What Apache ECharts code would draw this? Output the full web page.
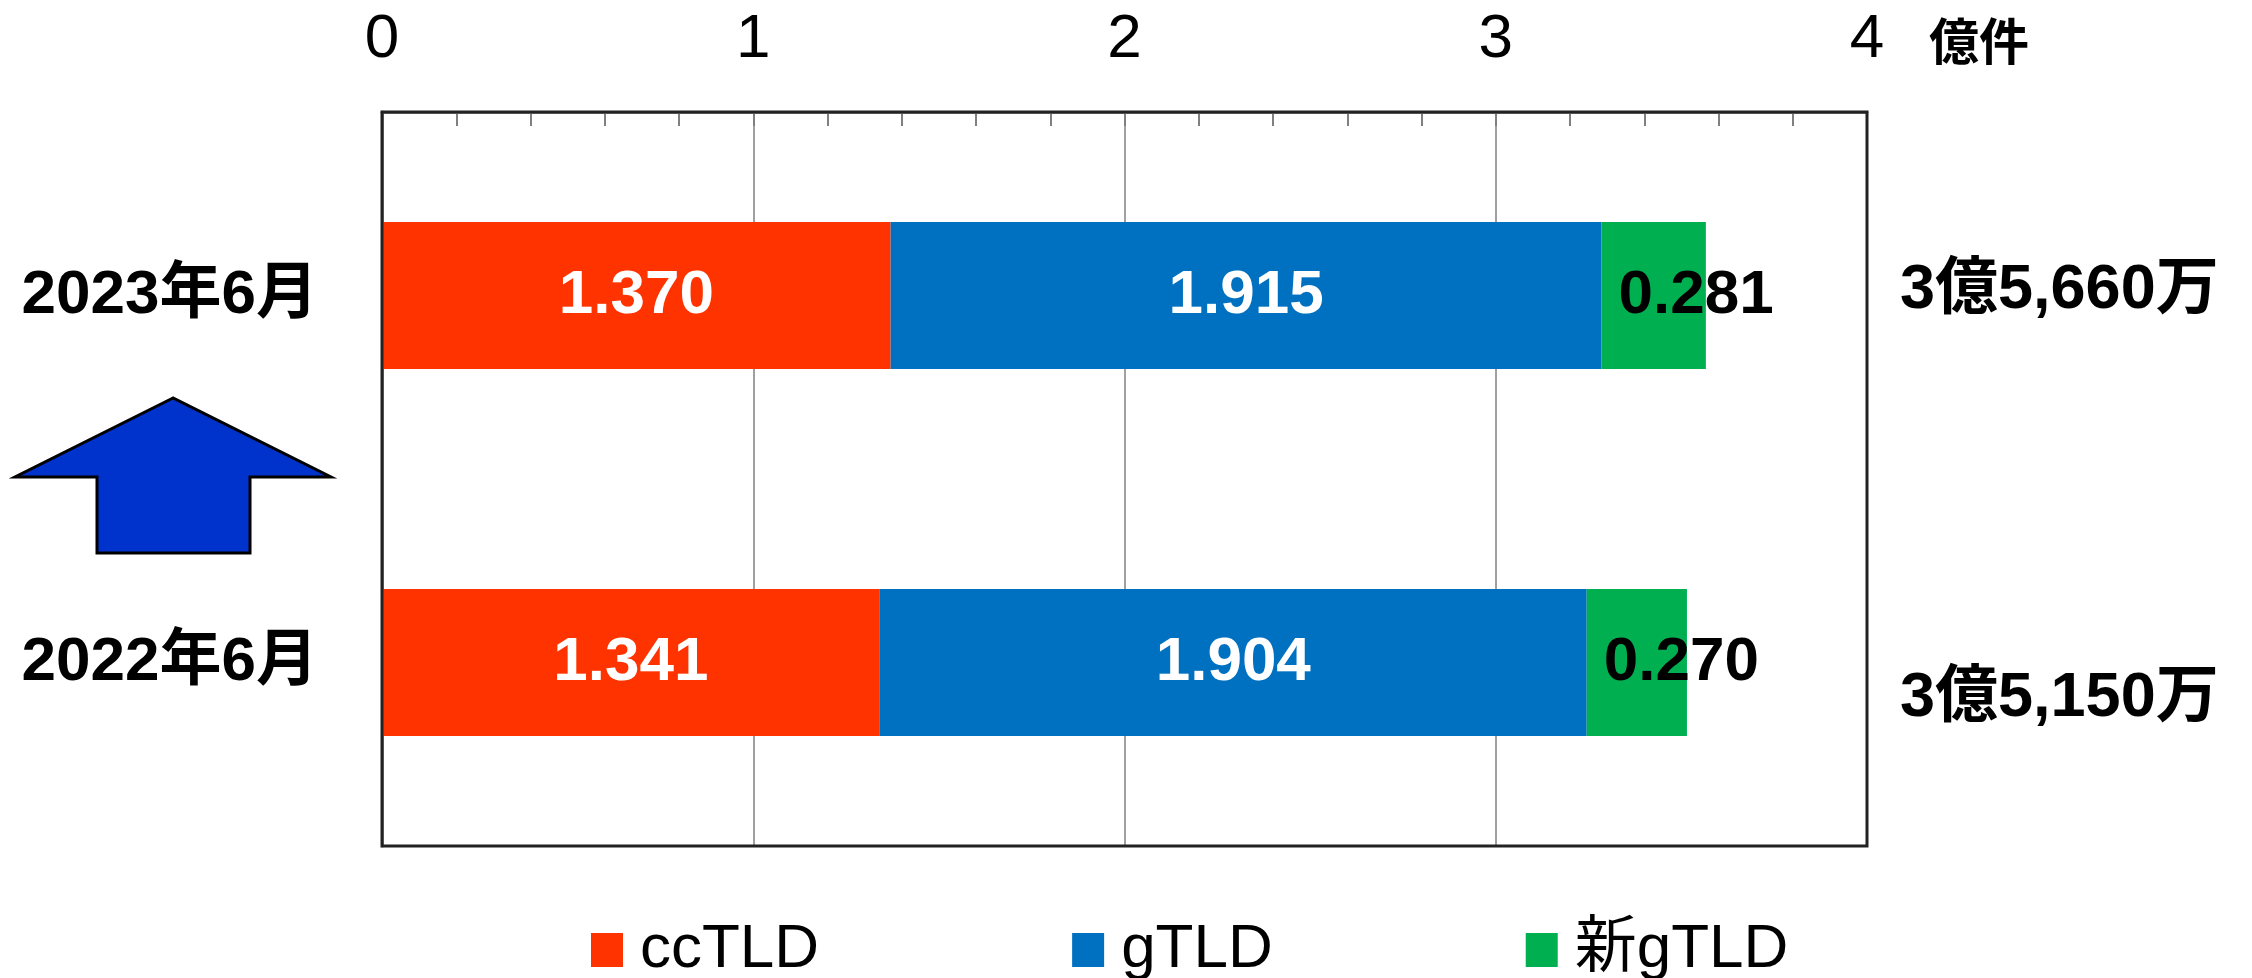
<!DOCTYPE html>
<html><head><meta charset="utf-8">
<script src="https://cdn.jsdelivr.net/npm/echarts@6/dist/echarts.min.js"></script>
<style>html,body{margin:0;padding:0;background:#fff}#c{width:2252px;height:978px}</style>
</head><body><div id="c"></div>
<script>
var categories = ['2023年6月', '2022年6月'];
var ccTLD = [1.370, 1.341];
var gTLD = [1.915, 1.904];
var newGTLD = [0.281, 0.270];
var totals = ['3億5,660万', '3億5,150万'];
var xTicks = [0, 1, 2, 3, 4];
var unitLabel = '億件';
var seriesNames = ['ccTLD', 'gTLD', '新gTLD'];

var FONT = "'Liberation Sans', Arial, 'Noto Sans CJK JP', sans-serif";
var chart = echarts.init(document.getElementById('c'));
function lbl(color, pos) {
  var o = { show: true, color: color, fontFamily: FONT, fontWeight: 'bold', fontSize: 62,
    formatter: function (p) { return p.value.toFixed(3); } };
  if (pos) { o.position = pos; o.align = 'left'; o.verticalAlign = 'middle'; }
  else { o.position = 'inside'; }
  return o;
}
var option = {
  animation: false,
  backgroundColor: '#fff',
  grid: { left: 382, right: 385, top: 112, bottom: 132, show: true, z: 5, borderColor: '#222', borderWidth: 3, backgroundColor: 'transparent' },
  legend: {
    left: 586, top: 914, itemWidth: 32, itemHeight: 34, itemGap: 253,
    icon: 'rect',
    textStyle: { fontFamily: FONT, fontSize: 62, color: '#000', padding: [0, 0, 0, 12] },
    data: seriesNames
  },
  xAxis: {
    type: 'value', position: 'top', min: xTicks[0], max: xTicks[xTicks.length - 1], interval: 1,
    axisLine: { show: true, lineStyle: { color: '#808080', width: 3 } },
    axisTick: { show: true, inside: true, length: 14, lineStyle: { color: '#808080', width: 2 } },
    minorTick: { show: true, splitNumber: 5, length: 14, lineStyle: { color: '#808080', width: 2 } },
    splitLine: { show: true, lineStyle: { color: '#808080', width: 1.5 } },
    axisLabel: { fontFamily: FONT, fontSize: 62, color: '#000', margin: 41 }
  },
  yAxis: {
    type: 'category', data: categories, inverse: true,
    axisLine: { show: true, lineStyle: { color: '#808080', width: 3 } },
    axisTick: { show: false },
    axisLabel: { fontFamily: FONT, fontWeight: 'bold', fontSize: 62, color: '#000', margin: 64 }
  },
  series: [
    { name: seriesNames[0], type: 'bar', stack: 't', data: ccTLD, barCategoryGap: '60%', itemStyle: { color: '#FF3300' }, label: lbl('#fff') },
    { name: seriesNames[1], type: 'bar', stack: 't', data: gTLD, itemStyle: { color: '#0070C0' }, label: lbl('#fff') },
    { name: seriesNames[2], type: 'bar', stack: 't', data: newGTLD, itemStyle: { color: '#00B050' }, label: lbl('#000', [17, '50%']) }
  ]
};
chart.setOption(option);

var offsets = [-5, 36];
var g = [];
totals.forEach(function (t, i) {
  var y = chart.convertToPixel({ yAxisIndex: 0 }, categories[i]);
  g.push({ type: 'text', left: 1900, top: y + offsets[i] - 31,
    style: { text: t, font: 'bold 63px ' + FONT, fill: '#000' } });
});
g.push({ type: 'text', left: 1929, top: 21, style: { text: unitLabel, font: 'bold 50px ' + FONT, fill: '#000' } });
g.push({ type: 'polygon', shape: { points: [[173, 398], [15, 477], [97, 477], [97, 553], [250, 553], [250, 477], [331, 477]] },
  style: { fill: '#0033CC', stroke: '#000', lineWidth: 3 } });
chart.setOption({ graphic: g });
</script></body></html>
